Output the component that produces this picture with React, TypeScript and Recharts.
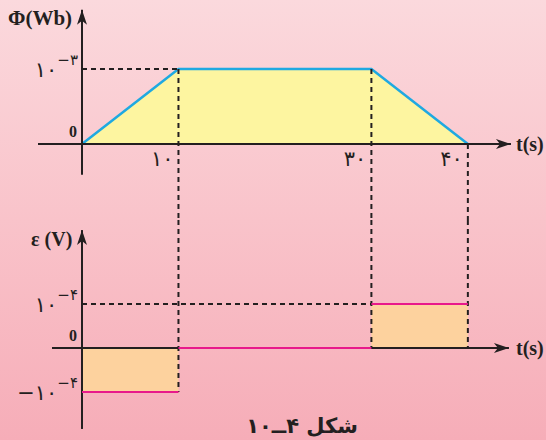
import { ComposedChart, Area, Line, XAxis, YAxis, ReferenceLine, ReferenceDot } from 'recharts'

// ── data ─────────────────────────────────────────────────────────────────────
const TIME = [0, 10, 30, 40] // s
const FLUX = [0, 0.001, 0.001, 0] // Wb at each TIME point
const EMF = [-0.0001, 0, 0.0001] // V, constant on each interval TIME[i]..TIME[i+1]
const TIME_TICKS = ['۱۰', '۳۰', '۴۰']
const FLUX_TICK = { base: '۱۰', exp: '−۳' }
const EMF_TICK = { base: '۱۰', exp: '−۴' }

const fluxData = TIME.map((t, i) => ({ t, phi: FLUX[i] }))
const emfFill = TIME.map((t, i) => ({ t, emf: EMF[Math.min(i, EMF.length - 1)] }))
const emfSegments = EMF.map((e, i) => [
  { t: TIME[i], emf: e },
  { t: TIME[i + 1], emf: e },
])

// ── styling ──────────────────────────────────────────────────────────────────
const W = 546
const H = 220
const INK = '#231f20'
const SERIF = '"Liberation Serif", "DejaVu Serif", serif'
const DIGITS = '"DejaVu Sans", sans-serif'
const DASH = { stroke: INK, strokeWidth: 2, strokeDasharray: '5 4' }

const X_DOMAIN: [number, number] = [-8.5, 48.1]
const PHI_DOMAIN: [number, number] = [-0.0010133, 0.00192]
const EMF_DOMAIN: [number, number] = [-0.00020909, 0.00029091]

// axis arrow: line plus a notched head at the end point
// eslint-disable-next-line @typescript-eslint/no-explicit-any
const Arrow = (p: any) => {
  const { x1, y1, x2, y2 } = p
  const ang = Math.atan2(y2 - y1, x2 - x1)
  const pt = (back: number, side: number) => {
    const x = x2 - back * Math.cos(ang) - side * Math.sin(ang)
    const y = y2 - back * Math.sin(ang) + side * Math.cos(ang)
    return `${x},${y}`
  }
  return (
    <g>
      <line x1={x1} y1={y1} x2={x2} y2={y2} stroke={INK} strokeWidth={2} />
      <polygon points={[pt(0, 0), pt(15, -5), pt(11, 0), pt(15, 5)].join(' ')} fill={INK} />
    </g>
  )
}

const timeTick = (label: string) =>
  // eslint-disable-next-line @typescript-eslint/no-explicit-any
  (p: any) => (
    <text x={p.cx - 5} y={p.cy + 22} textAnchor="end" fontFamily={DIGITS} fontSize={21} letterSpacing={3} fill={INK}>
      {label}
    </text>
  )

const powerTick = (sign: string, base: string, exp: string) =>
  // eslint-disable-next-line @typescript-eslint/no-explicit-any
  (p: any) => (
    <text x={p.cx - 4} y={p.cy + 8} textAnchor="end" fontFamily={DIGITS} fontSize={21} letterSpacing={3} fill={INK}>
      {sign}{base}
      <tspan dy={-12} fontSize={15} letterSpacing={0}>{exp}</tspan>
    </text>
  )

// eslint-disable-next-line @typescript-eslint/no-explicit-any
const zeroTick = (p: any) => (
  <text x={p.cx - 5} y={p.cy - 7} textAnchor="end" fontFamily={SERIF} fontWeight="bold" fontSize={16} fill={INK}>
    0
  </text>
)

function FluxChart() {
  return (
    <ComposedChart width={W} height={H} data={fluxData} margin={{ top: 0, right: 0, bottom: 0, left: 0 }}>
      <XAxis type="number" dataKey="t" domain={X_DOMAIN} allowDataOverflow hide />
      <YAxis type="number" domain={PHI_DOMAIN} allowDataOverflow hide />
      <Area
        type="linear"
        dataKey="phi"
        stroke="#1fa9e1"
        strokeWidth={2.5}
        fill="#fdf5a0"
        fillOpacity={1}
        dot={false}
        activeDot={false}
        isAnimationActive={false}
      />
      <ReferenceLine segment={[{ x: -4.56, y: 0 }, { x: 44.47, y: 0 }]} shape={Arrow} />
      <ReferenceLine segment={[{ x: 0, y: -0.00041 }, { x: 0, y: 0.00179 }]} shape={Arrow} />
      <ReferenceLine segment={[{ x: 0, y: FLUX[1] }, { x: TIME[1], y: FLUX[1] }]} {...DASH} />
      <ReferenceLine segment={[{ x: TIME[1], y: FLUX[1] }, { x: TIME[1], y: PHI_DOMAIN[0] }]} {...DASH} />
      <ReferenceLine segment={[{ x: TIME[2], y: FLUX[2] }, { x: TIME[2], y: PHI_DOMAIN[0] }]} {...DASH} />
      <ReferenceLine segment={[{ x: TIME[3], y: FLUX[3] }, { x: TIME[3], y: PHI_DOMAIN[0] }]} {...DASH} />
      {TIME.slice(1).map((t, i) => (
        <ReferenceDot key={t} x={t} y={0} r={0} shape={timeTick(TIME_TICKS[i])} />
      ))}
      <ReferenceDot x={0} y={FLUX[1]} r={0} shape={powerTick('', FLUX_TICK.base, FLUX_TICK.exp)} />
      <ReferenceDot x={0} y={0} r={0} shape={zeroTick} />
      <text x={8} y={25} fontFamily={SERIF} fontWeight="bold" fontSize={21} fill={INK}>Φ(Wb)</text>
      <text x={516} y={151} fontFamily={SERIF} fontWeight="bold" fontSize={20} fill={INK}>t(s)</text>
    </ComposedChart>
  )
}

function EmfChart() {
  return (
    <ComposedChart width={W} height={H} data={emfFill} margin={{ top: 0, right: 0, bottom: 0, left: 0 }}>
      <XAxis type="number" dataKey="t" domain={X_DOMAIN} allowDataOverflow hide />
      <YAxis type="number" domain={EMF_DOMAIN} allowDataOverflow hide />
      <Area
        type="stepAfter"
        dataKey="emf"
        stroke="none"
        fill="#fdd29e"
        fillOpacity={1}
        dot={false}
        activeDot={false}
        isAnimationActive={false}
      />
      <ReferenceLine segment={[{ x: -3.11, y: 0 }, { x: 44.26, y: 0 }]} shape={Arrow} />
      <ReferenceLine segment={[{ x: 0, y: -0.000184 }, { x: 0, y: 0.000268 }]} shape={Arrow} />
      <ReferenceLine segment={[{ x: TIME[1], y: EMF_DOMAIN[1] }, { x: TIME[1], y: EMF[0] }]} {...DASH} />
      <ReferenceLine segment={[{ x: TIME[2], y: EMF_DOMAIN[1] }, { x: TIME[2], y: 0 }]} {...DASH} />
      <ReferenceLine segment={[{ x: TIME[3], y: EMF_DOMAIN[1] }, { x: TIME[3], y: 0 }]} {...DASH} />
      <ReferenceLine segment={[{ x: 0, y: EMF[2] }, { x: TIME[2], y: EMF[2] }]} {...DASH} />
      {emfSegments.map((seg, i) => (
        <Line
          key={i}
          data={seg}
          dataKey="emf"
          type="linear"
          stroke="#e8198b"
          strokeWidth={2}
          dot={false}
          activeDot={false}
          isAnimationActive={false}
        />
      ))}
      <ReferenceDot x={0} y={EMF[2]} r={0} shape={powerTick('', EMF_TICK.base, EMF_TICK.exp)} />
      <ReferenceDot x={0} y={EMF[0]} r={0} shape={powerTick('−', EMF_TICK.base, EMF_TICK.exp)} />
      <ReferenceDot x={0} y={0} r={0} shape={zeroTick} />
      <text x={31} y={26} fontFamily={SERIF} fontWeight="bold" fontSize={20} fill={INK}>ε (V)</text>
      <text x={516} y={135} fontFamily={SERIF} fontWeight="bold" fontSize={20} fill={INK}>t(s)</text>
      <text x={302} y={213} textAnchor="middle" direction="rtl" fontFamily={DIGITS} fontWeight="bold" fontSize={21} fill={INK}>
        شکل ۴ــ۱۰
      </text>
    </ComposedChart>
  )
}

export default function App() {
  return (
    <div
      style={{
        position: 'absolute',
        left: 0,
        top: 0,
        width: W,
        height: 2 * H,
        background: 'linear-gradient(#fbd9dd, #f9c3ca 50%, #f6adb8)',
      }}
    >
      <FluxChart />
      <EmfChart />
    </div>
  )
}
